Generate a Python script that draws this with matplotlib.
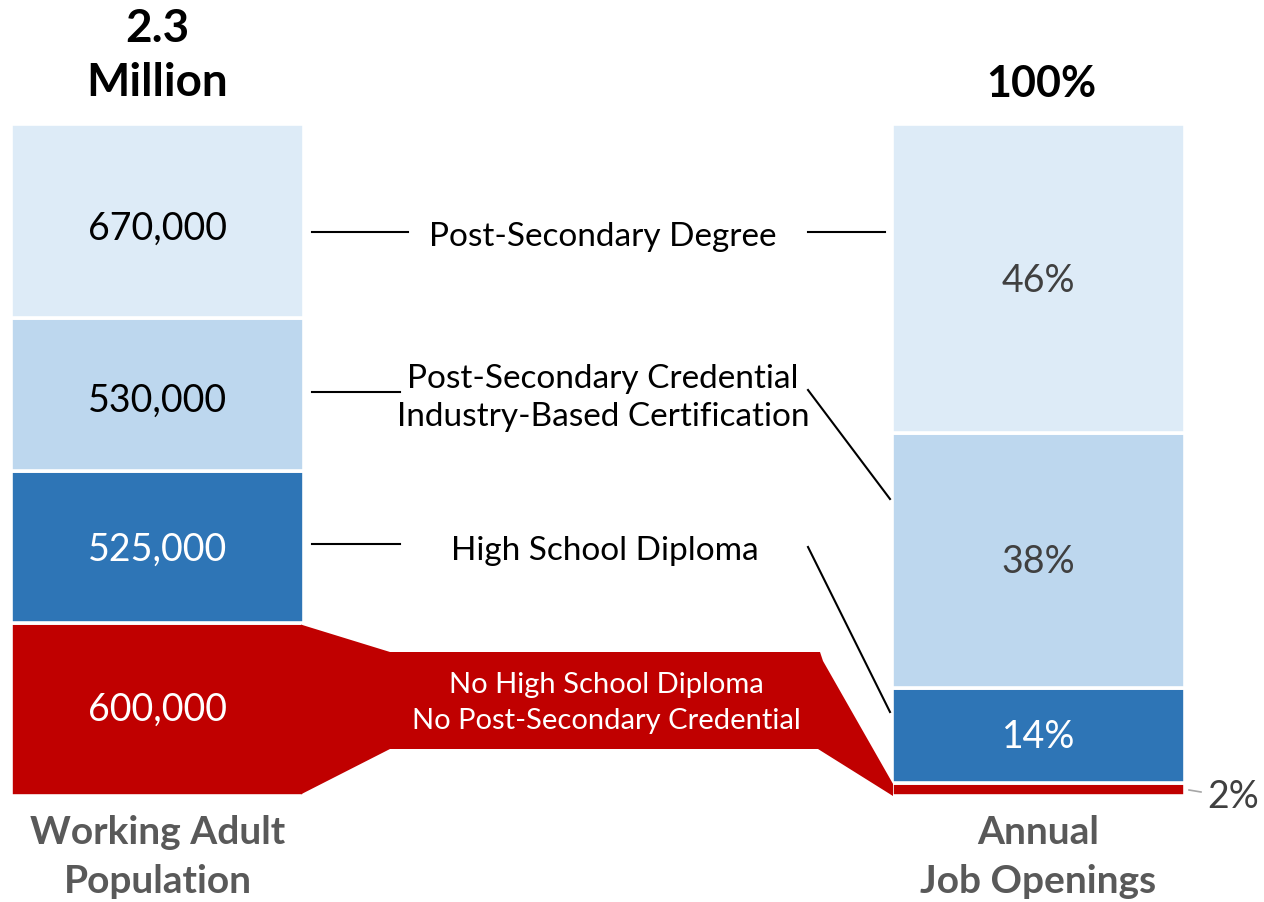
import numpy as np
import matplotlib.pyplot as plt
from matplotlib.patches import Polygon

plt.rcParams['font.family'] = ['Lato', 'DejaVu Sans']

# data, bottom to top
categories = ["No High School Diploma\nNo Post-Secondary Credential",
              "High School Diploma",
              "Post-Secondary Credential\nIndustry-Based Certification",
              "Post-Secondary Degree"]
population = [600000, 525000, 530000, 670000]
popLabels = ["600,000", "525,000", "530,000", "670,000"]
openings = [2, 14, 38, 46]
openLabels = ["2%", "14%", "38%", "46%"]

colors = ["#C00000", "#2E75B6", "#BDD7EE", "#DDEBF7"]
popTextColors = ["white", "white", "black", "black"]
openTextColors = ["#404040", "white", "#404040", "#404040"]
grayText = "#595959"

W, H = 1264, 903
yBase, yTop = 797, 125          # pixel rows for 0% and 100%
scale = (yBase - yTop) / 100.0

def py(p):
	# pixel row -> data y
	return (yBase - p) / scale

fig = plt.figure(figsize=(W / 100, H / 100), dpi=100)
ax = fig.add_axes([0, 0, 1, 1])
ax.set_xlim(0, W)
ax.set_ylim(py(H), py(0))
ax.axis('off')

leftX, rightX, barW = 157.5, 1038.5, 293

popShare = np.array(population) / sum(population) * 100
popBottom = np.concatenate([[0], np.cumsum(popShare)[:-1]])
openShare = np.array(openings, dtype=float)
openBottom = np.concatenate([[0], np.cumsum(openShare)[:-1]])

ax.bar(leftX, popShare, bottom=popBottom, width=barW, color=colors,
       edgecolor='white', linewidth=2.6)
ax.bar(rightX, openShare, bottom=openBottom, width=barW, color=colors,
       edgecolor='white', linewidth=2.6)

valSize = 27
# value labels
popNudge = [0.15, -0.3, -0.75, -1.05]
for s, b, lab, c, n in zip(popShare, popBottom, popLabels, popTextColors, popNudge):
	ax.text(leftX, b + s / 2 + n, lab, ha='center', va='center', fontsize=valSize, color=c)
for i, (s, b, lab, c) in enumerate(zip(openShare, openBottom, openLabels, openTextColors)):
	if i == 0:
		ax.plot([rightX + barW / 2 + 4, rightX + barW / 2 + 16], [py(791), py(793)],
		        color='#A6A6A6', linewidth=1.2)
		ax.text(rightX + barW / 2 + 22, py(797), lab, ha='left', va='center',
		        fontsize=valSize, color='#404040')
	elif i == 3:
		ax.text(rightX, py(281), lab, ha='center', va='center', fontsize=valSize, color=c)
	else:
		ax.text(rightX, b + s / 2, lab, ha='center', va='center', fontsize=valSize, color=c)

# red band joining the two bottom segments
lEdge = leftX + barW / 2 - 3
rEdge = rightX - barW / 2 + 1
band = [(lEdge, popShare[0] - 0.3), (390, py(653)), (820, py(653)), (823, py(662)),
        (rEdge, openShare[0] - 0.2), (rEdge, 0), (818, py(750)), (390, py(750)), (lEdge, 0.25)]
ax.add_patch(Polygon(band, closed=True, facecolor=colors[0], edgecolor='none'))
ax.text(606, py(703), categories[0], ha='center', va='center', fontsize=21,
        color='white', linespacing=1.5)

# connector labels and lines
lw = 1.5
lblSize = 24
ax.text(603, py(237), categories[3], ha='center', va='center', fontsize=lblSize, color='black')
ax.plot([312, 408], [py(233), py(233)], color='black', linewidth=lw)
ax.plot([808, 885], [py(233), py(233)], color='black', linewidth=lw)

ax.text(603, py(398), categories[2], ha='center', va='center', fontsize=lblSize,
        color='black', linespacing=1.3)
ax.plot([312, 400], [py(393), py(393)], color='black', linewidth=lw)
ax.plot([808, 890], [py(391), py(500)], color='black', linewidth=lw)

ax.text(605, py(551), categories[1], ha='center', va='center', fontsize=lblSize, color='black')
ax.plot([312, 400], [py(545), py(545)], color='black', linewidth=lw)
ax.plot([808, 890], [py(548), py(713)], color='black', linewidth=lw)

# headings
ax.text(leftX, py(56), "2.3\nMillion", ha='center', va='center', fontsize=33,
        fontweight='bold', color='black', linespacing=1.35)
ax.text(rightX + 3, py(84), "100%", ha='center', va='center', fontsize=31,
        fontweight='bold', color='black')
ax.text(leftX, py(857), "Working Adult\nPopulation", ha='center', va='center',
        fontsize=28, fontweight='bold', color=grayText, linespacing=1.5)
ax.text(rightX, py(857), "Annual\nJob Openings", ha='center', va='center',
        fontsize=28, fontweight='bold', color=grayText, linespacing=1.5)

fig.savefig("out.png", dpi=100)
